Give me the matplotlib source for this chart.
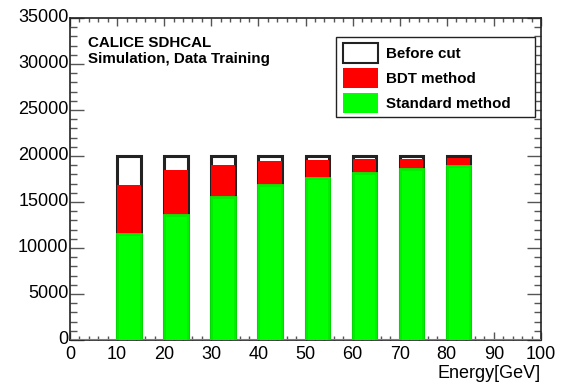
import numpy as np
import matplotlib
matplotlib.use("Agg")
import matplotlib.pyplot as plt
from matplotlib.patches import Patch, Rectangle

plt.rcParams['font.family'] = ['Liberation Sans', 'DejaVu Sans']

# histogram bins: 0-100 GeV in 5 GeV steps, filled at 10,20,...,80
edges = np.arange(0, 105, 5)
energies = [10, 20, 30, 40, 50, 60, 70, 80]
before_cut = [20000, 20000, 20000, 20000, 20000, 20000, 20000, 20000]
bdt_method = [16900, 18450, 19050, 19420, 19560, 19640, 19710, 19820]
standard_method = [11470, 13600, 15590, 16800, 17650, 18200, 18640, 18900]


def fill_bins(vals):
    h = np.zeros(len(edges) - 1)
    for e, v in zip(energies, vals):
        h[int(e // 5)] = v
    return h


fig = plt.figure(figsize=(5.69, 3.87), dpi=100)
ax = fig.add_axes([70/569, 1 - 340/387, 471/569, 322/387])

ax.stairs(fill_bins(before_cut), edges, fill=True, facecolor='white',
          edgecolor='#222222', linewidth=2.2, zorder=1)
ax.stairs(fill_bins(bdt_method), edges, fill=True, facecolor='#ff0000',
          edgecolor='none', zorder=2)
ax.stairs(fill_bins(standard_method), edges, fill=True, facecolor='#00ff00',
          edgecolor='#00ee00', linewidth=2.0, zorder=3)

ax.set_xlim(0, 100)
ax.set_ylim(0, 35000)
ax.set_xticks(np.arange(0, 101, 10))
ax.set_xticks(np.arange(0, 101, 2), minor=True)
ax.set_yticks(np.arange(0, 35001, 5000))
ax.set_yticks(np.arange(0, 35001, 1000), minor=True)
ax.tick_params(which='both', direction='in', top=True, right=True,
               labelsize=13, color='#555555', width=1)
ax.tick_params(axis='x', which='major', length=6, pad=4.5)
ax.tick_params(axis='x', which='minor', length=3)
ax.tick_params(axis='y', which='major', length=10, pad=1)
ax.tick_params(axis='y', which='minor', length=5)
for lab in ax.get_yticklabels():
    lab.set_verticalalignment('center')
for sp in ax.spines.values():
    sp.set_linewidth(1.2)
    sp.set_color('#222222')
    sp.set_zorder(2.5)

ax.set_xlabel('Energy[GeV]', fontsize=13, loc='right', labelpad=1)

ax.text(0.038, 0.945, 'CALICE SDHCAL\nSimulation, Data Training',
        transform=ax.transAxes, fontsize=10.9, fontweight='bold',
        va='top', ha='left', linespacing=1.2)

# legend frame (ROOT TLegend style box)
fig.patches.append(Rectangle((335.7/569, 1 - 117/387), 199.3/569, 80/387,
                             transform=fig.transFigure, facecolor='white',
                             edgecolor='#222222', linewidth=1.0, zorder=5))

handles = [Patch(facecolor='white', edgecolor='#222222', linewidth=1.5),
           Patch(facecolor='#ff0000', edgecolor='none'),
           Patch(facecolor='#00ff00', edgecolor='none')]
leg = fig.legend(handles, ['Before cut', 'BDT method', 'Standard method'],
                 loc='upper left', bbox_to_anchor=(342.7/569, 1 - 42.5/387),
                 frameon=False, prop={'weight': 'bold', 'size': 10.9},
                 handlelength=2.33, handleheight=1.67, labelspacing=0.33,
                 handletextpad=0.55, borderpad=0, borderaxespad=0)
leg.set_zorder(6)

fig.savefig('out.png', dpi=100)
